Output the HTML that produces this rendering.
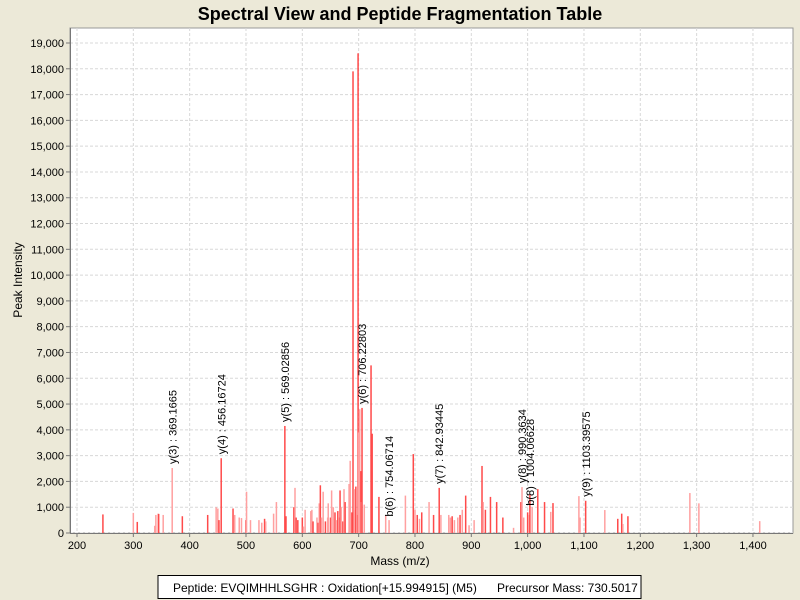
<!DOCTYPE html>
<html><head><meta charset="utf-8"><style>
body{margin:0;background:#ece9d8;font-family:"Liberation Sans",sans-serif;}
svg{display:block}
</style></head><body>
<svg id="chart" width="800" height="600">
<rect x="0" y="0" width="800" height="600" fill="#ece9d8"/>
<text x="400" y="20" text-anchor="middle" font-size="18" font-weight="bold">Spectral View and Peptide Fragmentation Table</text>
<rect x="70" y="28" width="723" height="505" fill="#fff" stroke="#999"/>
<g id="grid"></g><g id="peaks"></g><g id="ann"></g><g id="axes"></g>
<text x="400" y="565" text-anchor="middle" font-size="12">Mass (m/z)</text>
<text transform="translate(22,280) rotate(-90)" text-anchor="middle" font-size="12">Peak Intensity</text>
<g>
<rect x="158" y="575.5" width="483" height="23" fill="#fff" stroke="#000"/>
<text x="173" y="592" font-size="12">Peptide: EVQIMHHLSGHR : Oxidation[+15.994915] (M5)</text>
<text x="497" y="592" font-size="12">Precursor Mass: 730.5017</text>
</g>
</svg>
<script>
const masses=[246,300,307,338,340,344,345,353,369,387,432,447,450,452,456,477,480,488,492,500,501,508,523,528,533,535,549,554,569,571,585,587,589,592,600,602,605,615,617,619,626,628,630,632,634,637,641,645,646,650,652,655,658,660,663,665,667,669,672,674,676,683,685,688,690,692,694,695,697,699,700,702,704,705,706,710,722,724,736,748,754,783,797,800,804,808,812,825,833,843,846,860,863,866,870,876,880,884,890,896,905,919,921,925,934,945,956,975,988,990,993,1000,1002,1004,1008,1018,1030,1041,1045,1091,1093,1103,1137,1160,1167,1169,1178,1288,1304,1412];
const intensities=[720,780,430,280,700,750,740,700,2520,650,700,1000,950,500,2900,950,700,600,580,500,1600,500,500,400,550,450,750,1200,4150,650,1000,1750,600,500,600,250,900,850,900,450,600,400,1150,1850,600,1600,450,600,1150,600,1650,1000,800,500,850,600,1650,1000,450,1700,1200,1900,2800,800,17900,1700,900,1800,700,18600,3900,4800,2400,1200,4850,1100,6500,3850,1400,700,500,1450,3060,900,700,550,800,1200,700,1750,700,700,600,650,500,600,700,900,1450,300,500,2600,1200,900,1400,1200,600,200,1200,1780,600,800,700,1500,1000,1700,1200,820,1160,1430,600,1250,890,550,750,350,650,1550,1150,460];
const shades=[0,1,0,1,1,1,0,1,1,0,0,1,1,0,0,0,1,1,1,0,1,1,1,1,0,1,1,1,0,0,0,1,0,0,0,1,1,1,1,0,1,0,1,0,1,1,0,1,1,0,1,1,0,1,0,1,0,1,0,1,0,1,1,0,0,1,1,0,1,0,1,1,0,1,0,1,0,0,0,1,1,1,0,1,0,1,0,1,0,0,1,1,1,0,1,1,0,1,0,1,1,0,1,0,0,0,0,1,0,1,1,0,1,0,1,0,0,1,0,1,1,0,1,0,0,1,0,1,1,1];
const annMass=[369.1665,456.16724,569.02856,706.22803,754.06714,842.93445,990.3634,1004.06628,1103.39575];
const annInt=[2520,2900,4150,4850,480,1750,1780,900,1250];
const annText=["y(3) : 369.1665","y(4) : 456.16724","y(5) : 569.02856","y(6) : 706.22803","b(6) : 754.06714","y(7) : 842.93445","y(8) : 990.3634","b(8) : 1004.06628","y(9) : 1103.39575"];
const xTicks=[200,300,400,500,600,700,800,900,1000,1100,1200,1300,1400];
const yTicks=[0,1000,2000,3000,4000,5000,6000,7000,8000,9000,10000,11000,12000,13000,14000,15000,16000,17000,18000,19000];

const NS="http://www.w3.org/2000/svg";
const X=m=>77+(m-200)*0.5633;
const Y=v=>533-v*0.02579;
function mk(tag,attrs,parent){const e=document.createElementNS(NS,tag);for(const k in attrs)e.setAttribute(k,attrs[k]);parent.appendChild(e);return e;}
const grid=document.getElementById('grid'),axes=document.getElementById('axes'),pk=document.getElementById('peaks'),an=document.getElementById('ann');
yTicks.forEach(v=>{
  const g=mk('line',{x1:70,x2:793,y1:Y(v),y2:Y(v),stroke:'#d8d8d8','stroke-dasharray':'3,2'},grid);
  
  
  mk('line',{x1:66,x2:70,y1:Y(v),y2:Y(v),stroke:'#777'},axes);
  const t=mk('text',{x:64,y:Y(v)+4,'text-anchor':'end','font-size':'11'},axes);
  t.textContent=v.toLocaleString('en-US');
  
  
});
xTicks.forEach(v=>{
  const g=mk('line',{x1:X(v),x2:X(v),y1:28,y2:533,stroke:'#d8d8d8','stroke-dasharray':'3,2'},grid);
  
  
  mk('line',{x1:X(v),x2:X(v),y1:533,y2:537,stroke:'#777'},axes);
  const t=mk('text',{x:X(v),y:549,'text-anchor':'middle','font-size':'11'},axes);
  t.textContent=v.toLocaleString('en-US');
  
  
});
mk('line',{x1:70,x2:793,y1:533.5,y2:533.5,stroke:'#777'},axes);
mk('line',{x1:70.5,x2:70.5,y1:28,y2:533,stroke:'#777'},axes);
masses.forEach((m,i)=>{
  const r=mk('rect',{x:X(m)-0.75,y:Y(intensities[i]),width:1.5,height:533-Y(intensities[i]),fill:shades[i]?'#ffa0a0':'#ff4a4a'},pk);
  
  
});
annMass.forEach((m,i)=>{
  const x=X(m)+4,y=Y(annInt[i])-4;
  const t=mk('text',{transform:`translate(${x},${y}) rotate(-90)`,'font-size':'11'},an);
  t.textContent=annText[i];
  
  
});
</script>
</body></html>
